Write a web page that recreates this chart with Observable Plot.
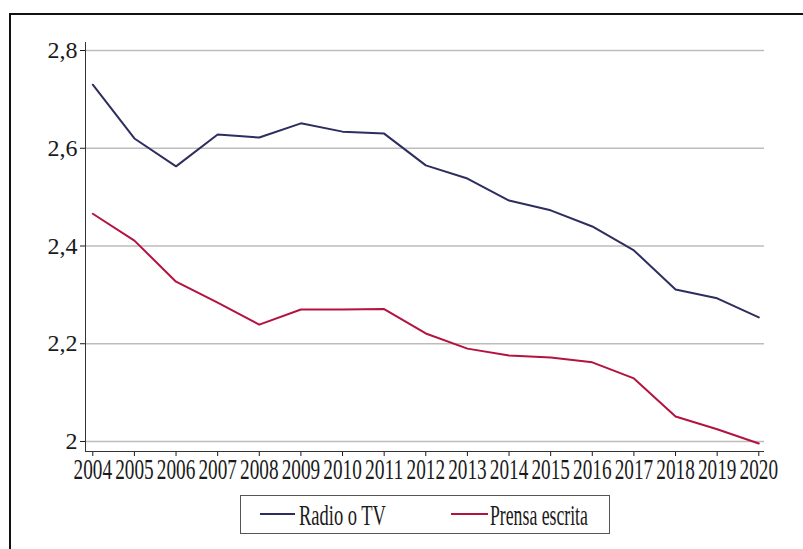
<!DOCTYPE html>
<html><head><meta charset="utf-8">
<script src="https://cdn.jsdelivr.net/npm/d3@7"></script>
<script src="https://cdn.jsdelivr.net/npm/@observablehq/plot@0.6"></script>
<style>
body{margin:0;background:#fff;width:803px;height:549px;overflow:hidden;position:relative;font-family:"Liberation Serif",serif;}
#frame{position:absolute;left:9px;top:13px;width:900px;height:700px;border:2px solid #111;box-sizing:border-box;}
#chart{position:absolute;left:0;top:0;}
#legend{position:absolute;left:240px;top:495px;width:370px;height:39px;border:1px solid #555;box-sizing:border-box;background:#fff;}
#legend svg{display:block;}
</style></head><body>
<div id="frame"></div>
<div id="chart"></div>
<div id="legend"></div>
<script>
const years = [2004,2005,2006,2007,2008,2009,2010,2011,2012,2013,2014,2015,2016,2017,2018,2019,2020];
const radioTV = [2.730,2.620,2.563,2.628,2.622,2.651,2.634,2.630,2.565,2.538,2.493,2.473,2.440,2.391,2.311,2.293,2.254];
const prensa  = [2.466,2.411,2.327,2.284,2.239,2.270,2.270,2.271,2.221,2.190,2.176,2.172,2.162,2.129,2.051,2.025,1.996];
const seriesNames = ["Radio o TV","Prensa escrita"];
const seriesColors = ["#2d2d5f","#b4123f"];
const yTicks = [2,2.2,2.4,2.6,2.8];
const yTickLabels = ["2","2,2","2,4","2,6","2,8"];
const xDomain = [2003.825, 2020.137];
const yDomain = [1.9795, 2.8164];

const data = years.flatMap((yr,i)=>[
  {year:yr,value:radioTV[i],series:seriesNames[0]},
  {year:yr,value:prensa[i],series:seriesNames[1]}
]);

const chart = Plot.plot({
  width:803, height:490,
  marginLeft:85, marginRight:39, marginTop:42, marginBottom:39,
  style:{fontFamily:"'Liberation Serif', serif", background:"transparent", color:"#1a1a1a"},
  x:{domain:xDomain},
  y:{domain:yDomain},
  color:{domain:seriesNames, range:seriesColors},
  marks:[
    Plot.ruleY(yTicks,{stroke:"#bdbdbd",strokeWidth:1.3}),
    Plot.axisY({ticks:yTicks, tickFormat:d=>yTickLabels[yTicks.indexOf(d)], tickSize:5, tickPadding:3, fontSize:24, label:null}),
    Plot.axisX({ticks:years, tickFormat:d=>String(d), tickSize:5, tickPadding:2, fontSize:29, label:null}),
    Plot.ruleX([xDomain[0]],{stroke:"#333"}),
    Plot.ruleY([yDomain[0]],{stroke:"#333"}),
    Plot.line(data,{x:"year",y:"value",stroke:"series",strokeWidth:2})
  ]
});
document.getElementById("chart").appendChild(chart);
// condense the x tick labels horizontally around their own anchor
d3.select(chart).selectAll('g[aria-label="x-axis tick label"] text').each(function(){
  const w = this.getComputedTextLength();
  const s = 38.5 / w;
  const t = this.getAttribute("transform") || "";
  this.setAttribute("transform", t + ` scale(${s},1)`);
});

// legend
const lg = d3.select("#legend").append("svg").attr("width",368).attr("height",37);
const items = [
  {name:seriesNames[0], color:seriesColors[0], x0:19, x1:54, tx:58, tl:87},
  {name:seriesNames[1], color:seriesColors[1], x0:210, x1:247, tx:249, tl:98}
];
items.forEach(it=>{
  lg.append("line").attr("x1",it.x0).attr("x2",it.x1).attr("y1",18).attr("y2",18)
    .attr("stroke",it.color).attr("stroke-width",2);
  const t = lg.append("text").attr("x",0).attr("y",0).attr("font-size",29)
    .attr("font-family","'Liberation Serif', serif").attr("fill","#1a1a1a").text(it.name);
  const w = t.node().getComputedTextLength();
  t.attr("transform",`translate(${it.tx},29) scale(${it.tl / w},1)`);
});
</script>
</body></html>
